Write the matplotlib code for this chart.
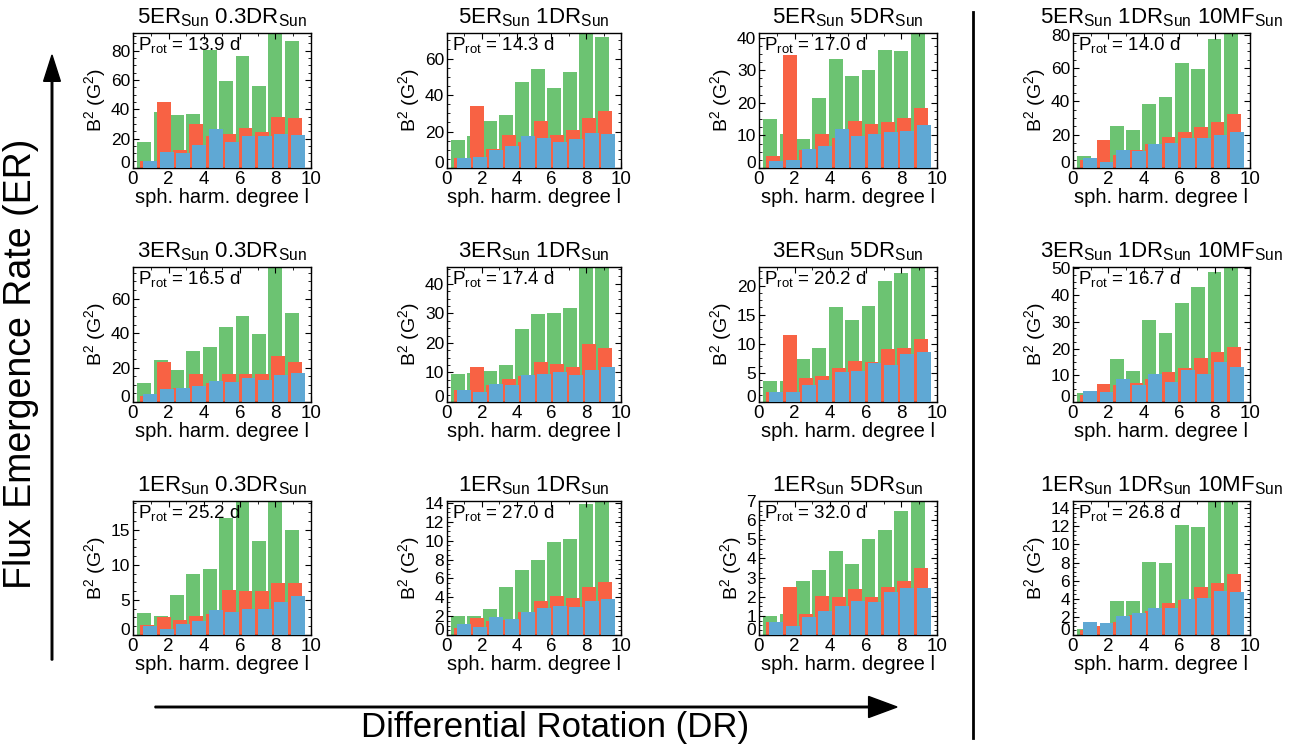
import numpy as np
import matplotlib
matplotlib.use("Agg")
import matplotlib.pyplot as plt
from matplotlib.ticker import MultipleLocator, FuncFormatter

plt.rcParams['font.family'] = ['Liberation Sans', 'DejaVu Sans']
plt.rcParams['mathtext.default'] = 'regular'

# spherical harmonic degrees
degrees = np.arange(1, 11)

titles = [
    ["5ER$_{Sun}$ 0.3DR$_{Sun}$", "5ER$_{Sun}$ 1DR$_{Sun}$", "5ER$_{Sun}$ 5DR$_{Sun}$", "5ER$_{Sun}$ 1DR$_{Sun}$ 10MF$_{Sun}$"],
    ["3ER$_{Sun}$ 0.3DR$_{Sun}$", "3ER$_{Sun}$ 1DR$_{Sun}$", "3ER$_{Sun}$ 5DR$_{Sun}$", "3ER$_{Sun}$ 1DR$_{Sun}$ 10MF$_{Sun}$"],
    ["1ER$_{Sun}$ 0.3DR$_{Sun}$", "1ER$_{Sun}$ 1DR$_{Sun}$", "1ER$_{Sun}$ 5DR$_{Sun}$", "1ER$_{Sun}$ 1DR$_{Sun}$ 10MF$_{Sun}$"],
]
p_rot = [
    [13.9, 14.3, 17.0, 14.0],
    [16.5, 17.4, 20.2, 16.7],
    [25.2, 27.0, 32.0, 26.8],
]

# total (green)
total = [
    [[17.4, 38, 36, 36.6, 80.5, 59.3, 76.4, 55.6, 92, 86.7],
     [15.6, 17.8, 26, 28.8, 47.2, 54.5, 44, 52.7, 74, 71.6],
     [15, 10.3, 8.8, 21.5, 33.5, 28.2, 30.1, 36.3, 36, 41.4],
     [7.3, 5, 25.5, 23, 38.2, 42.4, 63.2, 59.4, 77.6, 81]],
    [[10.9, 24.5, 18.6, 29.7, 31.7, 43.3, 50.1, 39.6, 78.4, 51.8],
     [9.4, 9.8, 10.5, 12.5, 24.8, 29.9, 30.2, 31.9, 45.7, 45.7],
     [3.6, 3.6, 7.4, 9.3, 16.3, 14.1, 16.5, 20.8, 22.2, 23.2],
     [3.5, 2.5, 16.1, 11.7, 30.7, 25.8, 37, 43, 48.6, 50.5]],
    [[3.1, 2.7, 5.7, 8.7, 9.4, 16.7, 18.9, 13.4, 19.1, 14.9],
     [2.0, 2.0, 2.8, 5.1, 6.9, 8.0, 9.9, 10.2, 13.9, 14.2],
     [0.97, 1.1, 2.8, 3.4, 4.4, 3.7, 5.0, 5.5, 6.5, 7.0],
     [0.7, 1.0, 3.8, 3.8, 8.1, 8.0, 12.2, 11.9, 14.8, 14.8]],
]
# red component
comp_red = [
    [[5, 45, 12, 29.7, 21.5, 22.9, 27, 24.3, 34.5, 34],
     [5.7, 33.8, 10.6, 18.3, 14.3, 26, 18.3, 20.6, 27.5, 31],
     [3.8, 34.7, 5.4, 10.3, 9.3, 14.3, 13.6, 14, 15.4, 18.5],
     [4.6, 17, 7.9, 10.9, 14.3, 18.8, 21.8, 24.8, 27.9, 32.7]],
    [[3.7, 23.1, 8, 16.3, 10.9, 16.3, 16.3, 16.3, 26.8, 23.1],
     [4, 11.8, 5.7, 7.7, 8.9, 13.5, 12.8, 11.8, 19.7, 18.3],
     [1.7, 11.5, 4.1, 4.4, 5.8, 7, 6.8, 9.1, 9.3, 10.8],
     [2.6, 6.8, 6.5, 7.2, 8.7, 11.3, 12.8, 16.5, 18.8, 20.6]],
    [[1.4, 2.6, 2.1, 2.7, 3.0, 6.4, 6.3, 6.3, 7.4, 7.4],
     [0.7, 1.8, 1.5, 1.6, 2.4, 3.6, 4.1, 3.9, 5.1, 5.6],
     [0.7, 2.5, 1.1, 2.06, 2.0, 2.4, 2.0, 2.5, 2.8, 3.5],
     [0.5, 0.95, 1.4, 2.2, 2.6, 3.5, 3.9, 5.3, 5.7, 6.7]],
]
# blue component
comp_blue = [
    [[5, 11, 10.5, 16, 26.3, 17.4, 21.7, 21.7, 22.9, 22.2],
     [5.3, 6.2, 10, 11.9, 17.8, 16.5, 14.5, 16.1, 19.4, 18.9],
     [2.3, 2.5, 5.7, 6.9, 11.9, 9.8, 10.5, 10.9, 11.2, 13.1],
     [6, 3.6, 10.9, 10.3, 14.3, 15.2, 18.2, 18.2, 20, 21.8]],
    [[4.7, 7.4, 8.2, 9.3, 12.2, 11.8, 14.2, 12.8, 15.7, 16.9],
     [4.2, 3.3, 6, 5.7, 9.1, 9.4, 10.3, 9.1, 10.8, 11.8],
     [1.8, 1.8, 3, 3.7, 5.1, 5.3, 6.7, 6.3, 8.2, 8.6],
     [4.2, 3.9, 8.7, 6.5, 10.6, 7.6, 12, 10.6, 15, 13.2]],
    [[1.3, 0.9, 1.6, 2.0, 3.6, 3.3, 3.7, 3.7, 4.7, 5.6],
     [1.2, 0.9, 1.9, 1.7, 2.4, 2.9, 3.1, 3.0, 3.6, 3.8],
     [0.66, 0.45, 0.92, 1.23, 1.5, 1.8, 1.75, 2.27, 2.48, 2.48],
     [1.4, 1.3, 2.05, 2.4, 3.0, 3.0, 4.0, 4.1, 4.9, 4.7]],
]
ytick_step = [
    [20, 20, 10, 20],
    [20, 10, 5, 10],
    [5, 2, 1, 2],
]

GREEN = '#6cc372'
RED = '#f86244'
BLUE = '#5fa8d4'

W, H = 1290, 751
fig = plt.figure(figsize=(W / 100, H / 100), dpi=100)

col_x = [(133, 311), (447, 621), (759, 937), (1073, 1250)]
row_y = [(33, 168), (267, 402), (501, 635)]

# y labels without the zero (the zero is drawn a bit raised, IDL style)
no_zero = FuncFormatter(lambda v, p: "" if abs(v) < 1e-9 else "%g" % v)

width = 0.78
for r in range(3):
    for c in range(4):
        x0, x1 = col_x[c]
        y0, y1 = row_y[r]
        ax = fig.add_axes([x0 / W, 1 - y1 / H, (x1 - x0) / W, (y1 - y0) / H])
        pos = 0.92 * degrees - 0.12
        ax.bar(pos - 0.17, total[r][c], width=width, color=GREEN, zorder=1)
        ax.bar(pos, comp_red[r][c], width=width, color=RED, zorder=2)
        ax.bar(pos + 0.17, comp_blue[r][c], width=width, color=BLUE, zorder=3)
        ax.set_xlim(0, 10)
        ax.set_ylim(0, max(total[r][c]))
        ax.xaxis.set_major_locator(MultipleLocator(2))
        ax.xaxis.set_minor_locator(MultipleLocator(1))
        ax.yaxis.set_major_locator(MultipleLocator(ytick_step[r][c]))
        ax.yaxis.set_minor_locator(MultipleLocator(ytick_step[r][c] / 4))
        ax.yaxis.set_major_formatter(no_zero)
        ax.tick_params(which='both', direction='in', top=True, right=True)
        ax.tick_params(axis='x', labelsize=13.5)
        ax.tick_params(axis='y', labelsize=12.5)
        ax.tick_params(which='major', length=4, pad=2)
        ax.tick_params(which='minor', length=2)
        ax.annotate("0", xy=(0, 0), xycoords='axes fraction', xytext=(-2.5, 3),
                    textcoords='offset points', ha='right', va='center', fontsize=12.5)
        for s in ax.spines.values():
            s.set_linewidth(1.0)
        ax.set_title(titles[r][c], fontsize=16, pad=7)
        ax.set_xlabel("sph. harm. degree l", fontsize=14.5, labelpad=0)
        ax.set_ylabel("B$^2$ (G$^2$)", fontsize=14, labelpad=2)
        ax.text(0.03, 0.985, "P$_{rot}$ = %.1f d" % p_rot[r][c], transform=ax.transAxes,
                ha='left', va='top', fontsize=13.5, zorder=5)

# big axis annotations
fig.text(21 / W, 1 - 364 / H, "Flux Emergence Rate (ER)", rotation=90,
         ha='center', va='center', fontsize=27)
fig.text(555 / W, 1 - 728 / H, "Differential Rotation (DR)",
         ha='center', va='center', fontsize=25)
fig.patches.append(matplotlib.patches.FancyArrow(
    52 / W, 1 - 660 / H, 0, (660 - 55) / H, width=0.0012, head_width=0.013,
    head_length=0.035, length_includes_head=True, color='black', transform=fig.transFigure))
fig.patches.append(matplotlib.patches.FancyArrow(
    155 / W, 1 - 707 / H, (897 - 155) / W, 0, width=0.002, head_width=0.028,
    head_length=0.022, length_includes_head=True, color='black', transform=fig.transFigure))
fig.add_artist(plt.Line2D([973 / W, 973 / W], [1 - 12 / H, 1 - 738 / H],
                          color='black', lw=2, transform=fig.transFigure))

fig.savefig("out.png", dpi=100)
